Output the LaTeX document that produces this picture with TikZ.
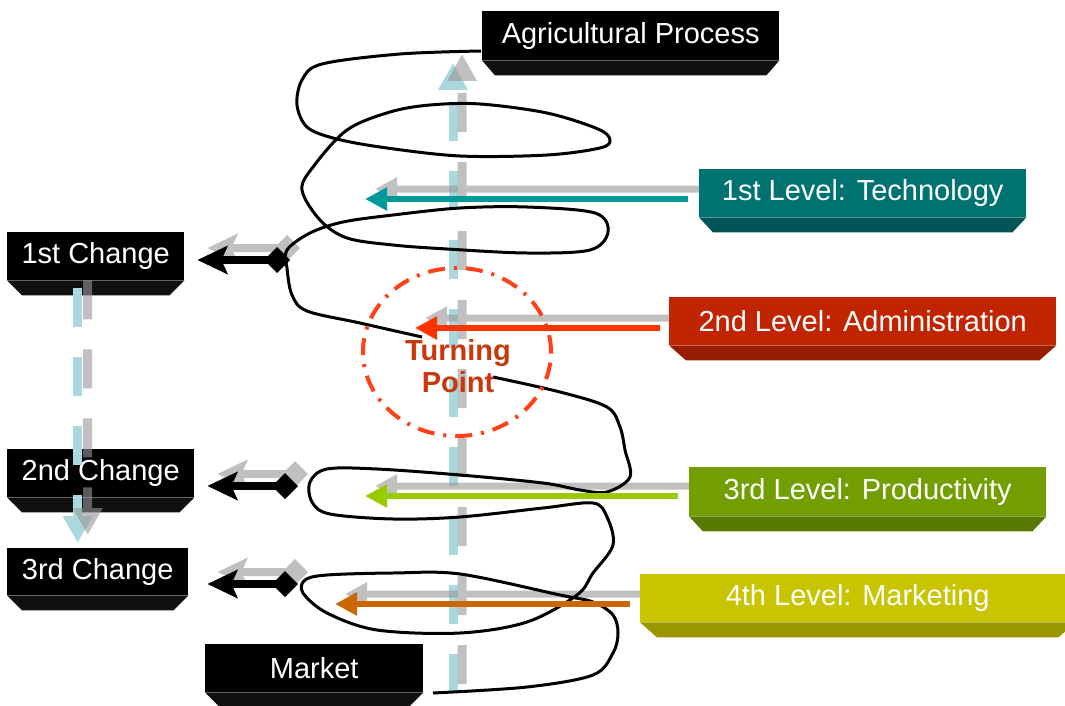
\documentclass[tikz,border=0pt]{standalone}
\usepackage{fontspec}
\setmainfont{Liberation Sans}
\usetikzlibrary{arrows.meta,calc,shapes.geometric}
\definecolor{boxteal}{RGB}{0,114,114}
\definecolor{boxtealdk}{RGB}{0,86,86}
\definecolor{boxred}{RGB}{192,36,0}
\definecolor{boxreddk}{RGB}{152,28,0}
\definecolor{boxgreen}{RGB}{114,158,0}
\definecolor{boxgreendk}{RGB}{88,122,0}
\definecolor{boxyellow}{RGB}{200,196,0}
\definecolor{boxyellowdk}{RGB}{154,150,0}
\definecolor{boxblackdk}{RGB}{16,16,16}
\definecolor{arrteal}{RGB}{0,153,153}
\definecolor{arrred}{RGB}{255,51,0}
\definecolor{arrgreen}{RGB}{153,204,0}
\definecolor{arrorange}{RGB}{204,102,0}
\definecolor{axblue}{RGB}{170,216,222}
\definecolor{shadowgray}{RGB}{150,150,150}
\definecolor{ringred}{RGB}{255,64,24}
\definecolor{turntext}{RGB}{200,56,10}
\begin{document}
\begin{tikzpicture}[x=1pt,y=-1pt]
\tikzstyle{labelbox} = [fill=black,text=white,font=\fontsize{29}{34}\selectfont,minimum height=48pt,inner sep=0pt,anchor=north west]
\tikzstyle{axisarr} = [line width=9pt,axblue,dash pattern=on 39pt off 30pt,-{Triangle[length=27pt,width=28pt]}]
\tikzstyle{axisshadow} = [axisarr,shadowgray]
\tikzstyle{levelarr} = [line width=6pt,-{Triangle[length=22pt,width=22pt]}]
\tikzstyle{levelshadow} = [levelarr,line width=7pt,shadowgray]
\tikzstyle{changearr} = [line width=8pt,{Diamond[length=26pt,width=26pt]}-{Stealth[length=30pt,width=28pt,inset=6pt]}]
\tikzstyle{changeshadow} = [changearr,shadowgray]
\tikzstyle{spiral} = [line width=3pt,line join=round]
\useasboundingbox (0,0) rectangle (1065,706);
	\node[labelbox,minimum width=297pt,minimum height=49pt] (agri) at (482,11) {Agricultural Process};
	\node[labelbox,fill=boxteal,minimum width=327pt] (tech) at (699,169) {1st Level: Technology};
	\node[labelbox,fill=boxred,minimum width=387pt] (admin) at (669,297) {2nd Level: Administration};
	\node[labelbox,fill=boxgreen,minimum width=357pt,minimum height=49pt] (prod) at (689,467) {3rd Level: Productivity};
	\node[labelbox,fill=boxyellow,minimum width=435pt] (mkt) at (640,574) {4th Level: Marketing};
	\node[labelbox,minimum width=177pt] (chg1) at (7,232) {1st Change};
	\node[labelbox,minimum width=187pt] (chg2) at (7,449) {2nd Change};
	\node[labelbox,minimum width=181pt,minimum height=47pt] (chg3) at (7,548) {3rd Change};
	\node[labelbox,minimum width=218pt] (market) at (205,644) {Market};
	\foreach \n/\c/\i in {agri/boxblackdk/13,tech/boxtealdk/14,admin/boxreddk/17,prod/boxgreendk/14,mkt/boxyellowdk/17,chg1/boxblackdk/15,chg2/boxblackdk/15,chg3/boxblackdk/15,market/boxblackdk/15}
		\fill[\c] (\n.south west) -- (\n.south east) -- ++(-\i,15) -- ($(\n.south west)+(\i,15)$) -- cycle;
	\coordinate (axB) at (453,693);
	\coordinate (axT) at (453,63);
	\coordinate (tT) at (365,199);
	\coordinate (sT) at (375,189);
	\coordinate (tA) at (415,328);
	\coordinate (sA) at (425,318);
	\coordinate (tP) at (365,496);
	\coordinate (sP) at (375,486);
	\coordinate (tM) at (335,604);
	\coordinate (sM) at (345,594);
	\coordinate (k1) at (290,260);
	\coordinate (q1) at (300,248);
	\coordinate (k2) at (298,486);
	\coordinate (q2) at (308,474);
	\coordinate (k3) at (298,584);
	\coordinate (q3) at (308,572);
	\draw[axisarr] (axB) -- (axT);
	\draw[axisarr] ($(chg1.south)+(-18,8)$) -- ($(chg3.north)+(-20,-5)$);
	\begin{scope}[transparency group,opacity=0.6]
	\draw[axisshadow] ([shift={(9,-9)}]axB) -- ([shift={(9,-9)}]axT);
	\draw[axisshadow] ($(chg1.south)+(-8,0)$) -- ($(chg3.north)+(-10,-13)$);
	\draw[levelshadow] (tech.west |- sT) -- (sT);
	\draw[levelshadow] (admin.west |- sA) -- (sA);
	\draw[levelshadow] (prod.west |- sP) -- (sP);
	\draw[levelshadow] (mkt.west |- sM) -- (sM);
	\draw[changeshadow] (q1) -- ($(chg1.east |- q1)+(23,0)$);
	\draw[changeshadow] (q2) -- ($(chg2.east |- q2)+(23,0)$);
	\draw[changeshadow] (q3) -- ($(chg3.east |- q3)+(29,0)$);
	\end{scope}
	\draw[spiral] plot[smooth,tension=0.55] coordinates {(481,51) (400,54) (322,64) (302,80) (297,105) (307,127) (333,138) (380,147) (460,156) (547,155) (600,148) (610,140) (598,129) (547,113) (480,104) (430,105) (390,112) (347,130) (313,167) (302,190) (320,220) (347,238) (393,245) (447,249) (527,253) (590,250) (608,232) (595,213) (527,207) (460,208) (393,215) (343,222) (310,233) (287,250) (287,268) (292,295) (307,311) (360,323) (422,337)};
	\draw[spiral] plot[smooth,tension=0.55] coordinates {(493,377) (560,392) (607,407) (620,427) (625,450) (630,477) (607,492) (580,490) (543,483) (460,475) (377,469) (327,469) (310,482) (312,502) (330,514) (393,519) (460,517) (543,508) (593,503) (607,517) (613,545) (593,573) (577,595) (527,622) (460,633) (377,630) (327,613) (303,593) (305,580) (327,575) (393,573) (460,574) (560,595) (593,602) (613,615) (618,633) (613,653) (593,675) (527,687) (433,693)};
	\draw[levelarr,arrteal] ($(tech.west |- tT)+(-11,0)$) -- (tT);
	\draw[levelarr,arrred] ($(admin.west |- tA)+(-9,0)$) -- (tA);
	\draw[levelarr,arrgreen] ($(prod.west |- tP)+(-11,0)$) -- (tP);
	\draw[levelarr,arrorange] ($(mkt.west |- tM)+(-10,0)$) -- (tM);
	\draw[changearr] (k1) -- ($(chg1.east |- k1)+(13,0)$);
	\draw[changearr] (k2) -- ($(chg2.east |- k2)+(13,0)$);
	\draw[changearr] (k3) -- ($(chg3.east |- k3)+(19,0)$);
	\node[ellipse,draw=ringred,line width=4pt,dash pattern=on 17pt off 9pt on 3pt off 9pt,minimum width=188pt,minimum height=168pt,inner sep=0pt] (ring) at (457,352) {};
	\node[font=\bfseries\fontsize{29}{32}\selectfont,text=turntext,align=center] (turn) at (458,366) {Turning\\Point};
\end{tikzpicture}
\end{document}
